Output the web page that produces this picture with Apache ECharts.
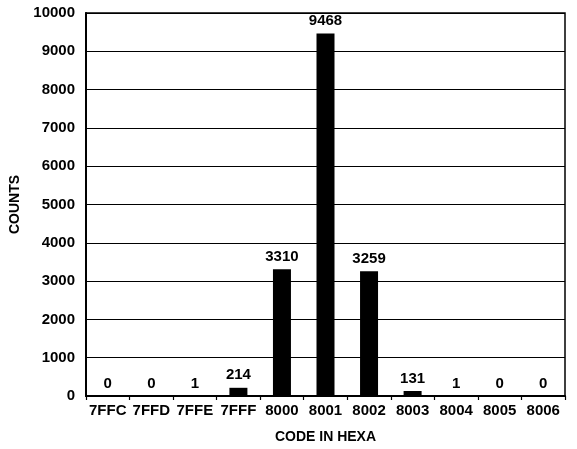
<!DOCTYPE html>
<html>
<head>
<meta charset="utf-8">
<script src="https://cdn.jsdelivr.net/npm/echarts@6/dist/echarts.min.js"></script>
<style>html,body{margin:0;padding:0;background:#fff}#c{width:577px;height:449px}</style>
</head>
<body>
<div id="c"></div>
<script>
var categories = ['7FFC','7FFD','7FFE','7FFF','8000','8001','8002','8003','8004','8005','8006'];
var counts = [0, 0, 1, 214, 3310, 9468, 3259, 131, 1, 0, 0];
var yMin = 0, yMax = 10000, yStep = 1000;

var font = 'Liberation Sans, Arial, Helvetica, sans-serif';
var chart = echarts.init(document.getElementById('c'), null, {renderer: 'canvas'});
chart.setOption({
  animation: false,
  backgroundColor: '#fff',
  grid: {left: 86, right: 12, top: 13, bottom: 51, show: true, borderColor: '#000', borderWidth: 1.5, backgroundColor: 'transparent'},
  xAxis: {
    type: 'category',
    data: categories,
    name: 'CODE IN HEXA',
    nameLocation: 'middle',
    nameGap: 34,
    nameTextStyle: {color: '#000', fontFamily: font, fontWeight: 'bold', fontSize: 14},
    axisLine: {lineStyle: {color: '#000', width: 2}},
    axisTick: {show: true, alignWithLabel: false, length: 4, lineStyle: {color: '#000', width: 1.2}},
    axisLabel: {color: '#000', fontFamily: font, fontWeight: 'bold', fontSize: 15, margin: 7, interval: 0}
  },
  yAxis: {
    type: 'value',
    min: yMin, max: yMax, interval: yStep,
    name: 'COUNTS',
    nameLocation: 'middle',
    nameGap: 61,
    nameTextStyle: {color: '#000', fontFamily: font, fontWeight: 'bold', fontSize: 14},
    axisLine: {show: true, lineStyle: {color: '#000', width: 2}},
    axisTick: {show: false},
    splitLine: {lineStyle: {color: '#000', width: 1}},
    axisLabel: {color: '#000', fontFamily: font, fontWeight: 'bold', fontSize: 15, margin: 11, formatter: function (v) { return String(v); }}
  },
  series: [{
    type: 'bar',
    data: counts,
    barWidth: 18,
    itemStyle: {color: '#000'},
    label: {show: true, position: 'top', distance: 5, color: '#000', fontFamily: font, fontWeight: 'bold', fontSize: 15}
  }]
});
</script>
</body>
</html>
